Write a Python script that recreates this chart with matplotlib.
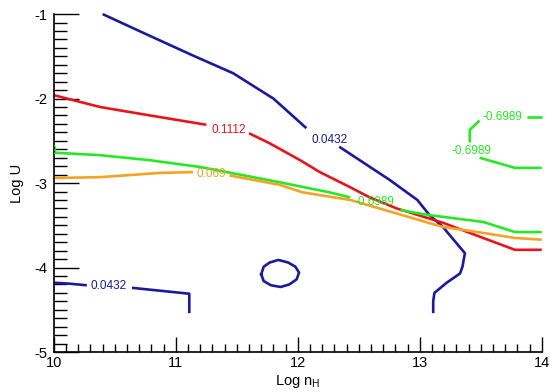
import numpy as np
import matplotlib.pyplot as plt
from matplotlib.ticker import MultipleLocator

plt.rcParams['font.family'] = ['Liberation Sans', 'DejaVu Sans']
plt.rcParams['axes.unicode_minus'] = False

# contour lines of log U vs log n_H, each split into pieces where a label sits
blue_x = [[10.40, 10.73, 11.14, 11.47, 11.80, 12.07],
          [12.34, 12.75, 12.98, 13.08, 13.19, 13.30, 13.37, 13.35, 13.33, 13.22, 13.12, 13.11, 13.11]]
blue_y = [[-1.00, -1.22, -1.49, -1.70, -2.00, -2.35],
          [-2.57, -2.96, -3.20, -3.38, -3.52, -3.71, -3.83, -3.99, -4.07, -4.18, -4.30, -4.40, -4.54]]
blue2_x = [[10.00, 10.12, 10.27], [10.64, 11.11, 11.11]]
blue2_y = [[-4.18, -4.19, -4.21], [-4.24, -4.31, -4.54]]
loop_x = [11.70, 11.72, 11.77, 11.84, 11.92, 11.98, 12.01, 11.99, 11.93, 11.86, 11.78, 11.72, 11.70]
loop_y = [-4.08, -3.99, -3.94, -3.91, -3.94, -3.99, -4.06, -4.14, -4.20, -4.23, -4.21, -4.16, -4.08]

red_x = [[10.00, 10.38, 10.79, 11.25], [11.60, 11.77, 12.02, 12.18, 12.43, 12.59, 12.81, 13.19, 13.52, 13.78, 14.00]]
red_y = [[-1.96, -2.10, -2.20, -2.31], [-2.41, -2.53, -2.73, -2.87, -3.05, -3.17, -3.30, -3.47, -3.65, -3.79, -3.79]]

green_x = [[10.00, 10.38, 10.79, 11.20, 11.85, 12.26, 12.43], [12.84, 13.08, 13.52, 13.78, 14.00]]
green_y = [[-2.64, -2.67, -2.73, -2.81, -2.99, -3.11, -3.17], [-3.32, -3.38, -3.46, -3.58, -3.58]]
green2_x = [[13.88, 14.00], [13.49, 13.41, 13.41], [13.49, 13.78, 14.00]]
green2_y = [[-2.22, -2.22], [-2.26, -2.37, -2.52], [-2.70, -2.82, -2.82]]

orange_x = [[10.00, 10.38, 10.87, 11.14], [11.44, 11.85, 12.04, 12.43, 12.81, 13.19, 13.52, 13.78, 14.00]]
orange_y = [[-2.94, -2.93, -2.88, -2.87], [-2.91, -3.02, -3.11, -3.20, -3.36, -3.52, -3.59, -3.65, -3.67]]

# (text, x, y, colour key)
labels = [
    ('0.0432', 12.26, -2.49, 'blue'),
    ('0.0432', 10.45, -4.22, 'blue'),
    ('0.1112', 11.43, -2.37, 'red'),
    ('0.069', 11.29, -2.89, 'orange'),
    ('-0.6989', 12.63, -3.23, 'green'),
    ('-0.6989', 13.68, -2.22, 'green'),
    ('-0.6989', 13.42, -2.62, 'green'),
]

colors = {'blue': '#1a1a9e', 'red': '#e8141c', 'green': '#27e827', 'orange': '#f4a324'}

fig = plt.figure(figsize=(5.5, 3.92), dpi=100)
ax = fig.add_axes([0.098, 0.102, 0.887, 0.862])

lw = 1.9
for xs, ys, c in [(blue_x, blue_y, 'blue'), (blue2_x, blue2_y, 'blue'),
                  (red_x, red_y, 'red'), (green_x, green_y, 'green'),
                  (green2_x, green2_y, 'green'), (orange_x, orange_y, 'orange')]:
    for sx, sy in zip(xs, ys):
        ax.plot(sx, sy, color=colors[c], lw=lw, solid_capstyle='butt', clip_on=False)
ax.plot(loop_x, loop_y, color=colors['blue'], lw=lw)

for txt, x, y, c in labels:
    ax.text(x, y, txt, color=colors[c], fontsize=8.5, ha='center', va='center')
# label cut off by the left edge
ax.text(10.03, -2.62, '-0.6989', color=colors['green'], fontsize=8.5, ha='right', va='center', clip_on=True)

ax.set_xlim(10, 14)
ax.set_ylim(-5, -1)
ax.set_xticks([10, 11, 12, 13, 14])
ax.set_yticks([-5, -4, -3, -2, -1])
ax.xaxis.set_minor_locator(MultipleLocator(0.1))
ax.yaxis.set_minor_locator(MultipleLocator(0.1))
ax.tick_params(axis='x', which='major', direction='in', length=11, width=1, labelsize=10.5, pad=3)
ax.tick_params(axis='x', which='minor', direction='in', length=6, width=1)
ax.tick_params(axis='y', which='major', direction='in', length=18, width=1, labelsize=10.5, pad=5)
ax.tick_params(axis='y', which='minor', direction='in', length=9.5, width=1)
ax.spines['top'].set_visible(False)
ax.spines['right'].set_visible(False)
ax.spines['left'].set_linewidth(1.2)
ax.spines['bottom'].set_linewidth(1.2)

ax.set_xlabel(r'Log n$_\mathregular{H}$', fontsize=10.5, labelpad=2)
ax.set_ylabel('Log U', fontsize=10.5, labelpad=7)

fig.savefig('out.png', dpi=100)
